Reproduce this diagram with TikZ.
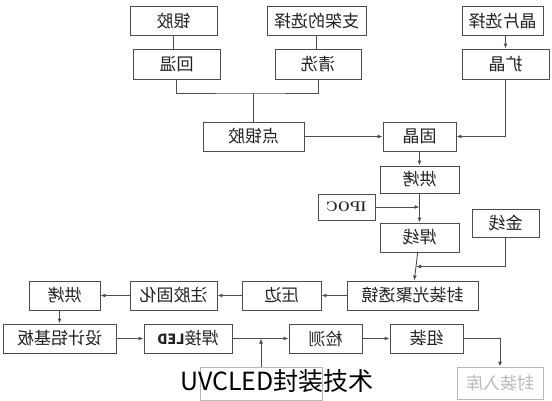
\documentclass[tikz,border=0pt]{standalone}
\usepackage{fontspec}
\usepackage{graphicx}
\usepackage{tikz}
\usetikzlibrary{arrows.meta,calc}
\newfontfamily\cjk{Noto Sans CJK SC}
\definecolor{boxline}{rgb}{0.30,0.30,0.30}
\definecolor{boxtext}{rgb}{0.13,0.13,0.13}
\definecolor{fadegray}{rgb}{0.72,0.72,0.72}
\newcommand{\mirrortext}[1]{\reflectbox{#1}}

\begin{document}
\begin{tikzpicture}[
  x=1pt, y=-1pt,
  box/.style={draw=boxline, line width=0.9pt, minimum height=29pt, inner sep=0pt,
    text=boxtext, font=\cjk\fontsize{17}{17}\selectfont},
  fadebox/.style={box, draw=fadegray, text=fadegray},
  latin/.style={font=\bfseries\fontsize{14}{14}\selectfont},
  arrow/.style={-{Latex[length=5pt,width=4pt]}, line width=0.9pt, draw=boxline},
  link/.style={line width=0.9pt, draw=boxline}
]
\useasboundingbox (0,0) rectangle (552,400);

% top rows
\node[box, minimum width=87pt] (yinjiao) at (173.5,21) {\mirrortext{银胶}};
\node[box, minimum width=99pt] (zhijia) at (316.5,21) {\mirrortext{支架的选择}};
\node[box, minimum width=81pt] (jingpian) at (502.5,21) {\mirrortext{晶片选择}};
\node[box, minimum width=87pt, minimum height=30pt] (huiwen) at (176.5,64) {\mirrortext{回温}};
\node[box, minimum width=86pt, minimum height=30pt] (qingxi) at (318,64) {\mirrortext{清洗}};
\node[box, minimum width=87pt, minimum height=30pt] (kuojing) at (505.5,64) {\mirrortext{扩晶}};

% middle column
\node[box, minimum width=101pt] (dianyinjiao) at (253.5,136.5) {\mirrortext{点银胶}};
\node[box, minimum width=73pt] (gujing) at (419.5,136.5) {\mirrortext{固晶}};
\node[box, minimum width=79pt, minimum height=27pt] (hongkaoA) at (419.5,179.5) {\mirrortext{烘烤}};
\node[box, latin, minimum width=57pt, minimum height=26pt] (ipoc) at (346.5,207) {\mirrortext{IPOC}};
\node[box, minimum width=79pt] (hanxian) at (419.5,237.5) {\mirrortext{焊线}};
\node[box, minimum width=67pt, minimum height=28pt] (jinxian) at (505.5,223) {\mirrortext{金线}};

% lens row
\node[box, minimum width=131pt] (toujing) at (412.5,295.5) {\mirrortext{封装光聚透镜}};
\node[box, minimum width=79pt] (yabian) at (281.5,295.5) {\mirrortext{压边}};
\node[box, minimum width=87pt] (zhujiao) at (173.5,295.5) {\mirrortext{注胶固化}};
\node[box, minimum width=71pt] (hongkaoB) at (64.5,295.5) {\mirrortext{烘烤}};

% bottom row
\node[box, minimum width=113pt] (lvjiban) at (59.5,338.5) {\mirrortext{设计铝基板}};
\node[box, minimum width=88pt] (hanjie) at (188,338.5) {\mirrortext{焊接{\bfseries\fontsize{14}{14}\selectfont LED}}};
\node[box, minimum width=73pt] (jiance) at (325.5,338.5) {\mirrortext{检测}};
\node[box, minimum width=73pt] (zuzhuang) at (426.5,338.5) {\mirrortext{组装}};
\node[fadebox, minimum width=86pt, minimum height=32pt] (ruku) at (500,383) {\mirrortext{封装入库}};
\node[fadebox, minimum width=122pt, minimum height=33pt] (hidden) at (261,383.5) {};

\coordinate (merge) at (253.5,93);

\draw[link] (yinjiao) -- (yinjiao.south |- huiwen.north);
\draw[link] (zhijia) -- (zhijia.south |- qingxi.north);
\draw[arrow] (jingpian.south -| kuojing.north) -- (kuojing.north);
\draw[link] (huiwen.south) |- (merge) -| (qingxi.south);
\draw[link] (merge) -- (dianyinjiao.north);
\draw[arrow] (dianyinjiao) -- (gujing);
\draw[arrow] (kuojing.south) |- (gujing.east);
\draw[arrow] (gujing) -- (hongkaoA);
\draw[arrow] (hongkaoA) -- (hanxian);
\draw[arrow] (ipoc.east) -- (ipoc.east -| hanxian.north);
\draw[arrow] (hanxian) -- (toujing);
\draw[arrow] (jinxian.south) |- ($(hanxian.south)!0.5!(toujing.north)$);
\draw[arrow] (toujing) -- (yabian);
\draw[arrow] (yabian) -- (zhujiao);
\draw[arrow] (zhujiao) -- (hongkaoB);
\draw[arrow] (lvjiban.north |- hongkaoB.south) -- (lvjiban.north);
\draw[arrow] (lvjiban) -- (hanjie);
\draw[arrow] (hanjie) -- (jiance);
\draw[arrow] (jiance) -- (zuzhuang);
\draw[arrow] (zuzhuang.east) -| (ruku.north);
\draw[arrow] (hidden.north) -- (hidden.north |- hanjie.east);

\node[font=\cjk\fontsize{25}{25}\selectfont, text=black, inner sep=0pt] (caption) at (277,381) {UVCLED封装技术};
\end{tikzpicture}
\end{document}
